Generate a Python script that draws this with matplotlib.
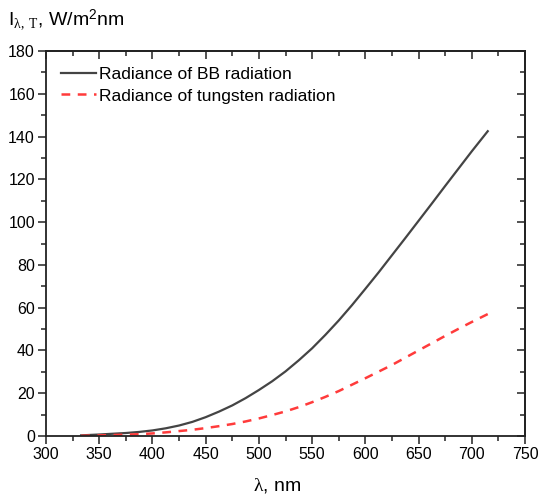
import matplotlib
matplotlib.use("Agg")
import matplotlib.pyplot as plt
from matplotlib.ticker import MultipleLocator

# wavelength grid (nm)
wavelength = [333, 350, 375, 387.5, 400, 412.5, 425, 437.5, 450, 462.5,
              475, 487.5, 500, 512.5, 525, 537.5, 550, 562.5, 575, 587.5,
              600, 612.5, 625, 637.5, 650, 662.5, 675, 687.5, 700, 715]
# radiance values (W/m^2 nm)
radiance_bb = [0.3, 0.7, 1.4, 1.9, 2.6, 3.6, 4.9, 6.6, 8.8, 11.4,
               14.3, 17.7, 21.5, 25.6, 30.2, 35.4, 41.0, 47.3, 54.0, 61.2,
               68.8, 76.5, 84.5, 92.5, 100.6, 108.7, 116.9, 125.0, 133.1, 142.5]
radiance_w = [0.1, 0.3, 0.6, 0.85, 1.2, 1.7, 2.3, 2.9, 3.7, 4.6,
              5.6, 6.8, 8.2, 9.8, 11.5, 13.5, 15.8, 18.3, 21.0, 24.0,
              27.0, 30.1, 33.2, 36.6, 40.0, 43.4, 46.8, 50.1, 53.3, 57.0]

labels = ["Radiance of BB radiation", "Radiance of tungsten radiation"]

plt.rcParams["font.family"] = ["Liberation Sans", "DejaVu Sans"]
plt.rcParams["mathtext.fontset"] = "custom"
plt.rcParams["mathtext.rm"] = "Liberation Serif"
plt.rcParams["mathtext.it"] = "Liberation Serif:italic"
plt.rcParams["mathtext.sf"] = "Liberation Sans"

fig = plt.figure(figsize=(5.38, 4.98), dpi=100)
ax = fig.add_axes([46 / 538, 1 - 436 / 498, 479 / 538, 385 / 498])

ax.plot(wavelength, radiance_bb, color="#444444", lw=1.6, label=labels[0])
ax.plot(wavelength, radiance_w, color="#ff3b3b", lw=1.8,
        dashes=(3.5, 3), label=labels[1])

ax.set_xlim(300, 750)
ax.set_ylim(0, 180)
ax.xaxis.set_major_locator(MultipleLocator(50))
ax.xaxis.set_minor_locator(MultipleLocator(25))
ax.yaxis.set_major_locator(MultipleLocator(20))
ax.yaxis.set_minor_locator(MultipleLocator(10))

for s in ax.spines.values():
    s.set_linewidth(1.3)
    s.set_color("#222222")

ax.tick_params(which="major", direction="out", length=6, width=1.1,
               labelsize=11.5, pad=2, color="#222222")
ax.tick_params(which="minor", direction="out", length=3.5, width=1.1,
               color="#222222")

# top and right axes with inward ticks and no labels
top = ax.secondary_xaxis("top")
top.xaxis.set_major_locator(MultipleLocator(50))
top.xaxis.set_minor_locator(MultipleLocator(25))
top.tick_params(which="major", direction="in", length=6, width=1.1,
                labeltop=False, color="#222222")
top.tick_params(which="minor", direction="in", length=3.5, width=1.1,
                color="#222222")
right = ax.secondary_yaxis("right")
right.yaxis.set_major_locator(MultipleLocator(20))
right.yaxis.set_minor_locator(MultipleLocator(10))
right.tick_params(which="major", direction="in", length=6, width=1.1,
                  labelright=False, color="#222222")
right.tick_params(which="minor", direction="in", length=3.5, width=1.1,
                  color="#222222")
for sec in (top, right):
    for s in sec.spines.values():
        s.set_linewidth(1.3)
        s.set_color("#222222")

ax.legend(loc="upper left", bbox_to_anchor=(0.01, 0.985), frameon=False,
          fontsize=12.5, handlelength=2.0, handletextpad=0.15,
          labelspacing=0.35, borderaxespad=0.2)

fig.text(8 / 538, 1 - 26 / 498,
         r"I$_{\mathrm{\lambda},\ \mathrm{T}}$, W/m$^{\mathsf{2}}$nm",
         fontsize=14, ha="left", va="baseline")
fig.text(277 / 538, 3 / 498, r"$\mathrm{\lambda}$, nm", fontsize=14,
         ha="center", va="bottom")

fig.savefig("out.png", dpi=100)
